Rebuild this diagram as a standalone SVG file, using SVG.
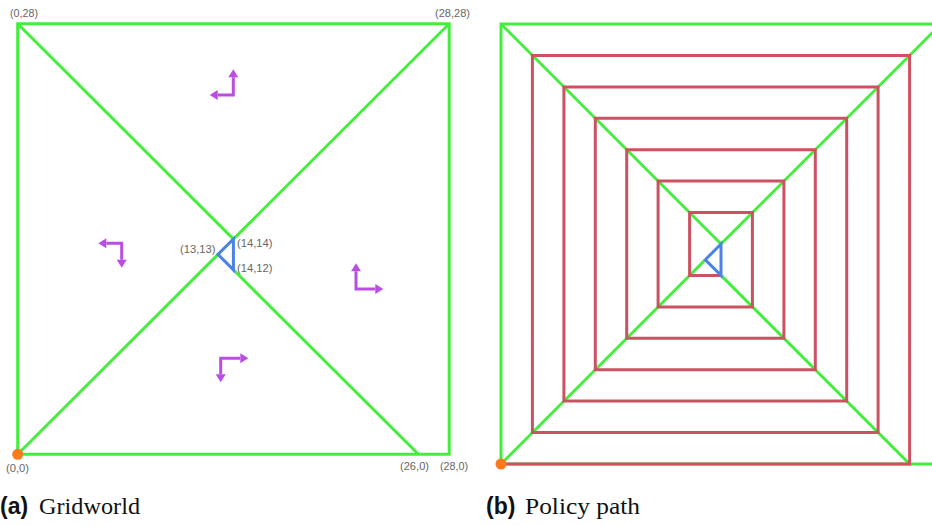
<svg xmlns="http://www.w3.org/2000/svg" width="932" height="525" viewBox="0 0 932 525">
<style>
.g{fill:none;stroke:#44ee3c;stroke-width:3;stroke-linejoin:miter}
.r{fill:none;stroke:#cc5262;stroke-width:3;stroke-linejoin:miter}
.b{fill:none;stroke:#4a82e6;stroke-width:3;stroke-linejoin:miter}
.o{fill:#fb7a1e}
.a{fill:none;stroke:#bb4ee2;stroke-width:3}
.lbl{font-family:"Liberation Sans",Arial,sans-serif;font-size:11.5px;fill:#666}
.cap{font-family:"Liberation Sans",Arial,sans-serif;font-weight:bold;font-size:23px;fill:#111}
.capt{font-family:"Liberation Serif","Times New Roman",serif;font-size:24px;fill:#111}
</style>
<defs>
<marker id="ah" markerUnits="userSpaceOnUse" markerWidth="8" markerHeight="10" viewBox="0 0 8 10" refX="0" refY="5" orient="auto-start-reverse" overflow="visible">
<path d="M0,0 L8,5 L0,10 z" fill="#bb4ee2"/>
</marker>
</defs>
<g id="panel-a">
<g id="grid-a">
<path class="g" d="M17.7,454.3 L17.7,23.8 L449.2,23.8 L449.2,454.3 Z"/>
<path class="g" d="M17.7,23.8 L233.4,239.05 L449.2,23.8"/>
<path class="g" d="M17.7,454.3 L218,254.4"/>
<path class="g" d="M233.4,269.8 L418.4,454.3"/>
</g>
<g id="goal-a"><path class="b" d="M218,254.4 L233.4,239.05 L233.4,269.8 Z"/></g>
<g id="start-a"><circle class="o" cx="17.7" cy="454.3" r="5.5"/></g>
<g id="arrows-a">
<path class="a" d="M217.7,95 L233.3,95 L233.3,77.3" marker-start="url(#ah)" marker-end="url(#ah)"/>
<path class="a" d="M106.3,243.3 L121.7,243.3 L121.7,259.7" marker-start="url(#ah)" marker-end="url(#ah)"/>
<path class="a" d="M356,271.3 L356,289 L375.3,289" marker-start="url(#ah)" marker-end="url(#ah)"/>
<path class="a" d="M240.3,358.3 L220.7,358.3 L220.7,374.3" marker-start="url(#ah)" marker-end="url(#ah)"/>
</g>
<g id="labels-a">
<text class="lbl" x="10" y="17" textLength="28" lengthAdjust="spacingAndGlyphs">(0,28)</text>
<text class="lbl" x="435" y="17" textLength="35" lengthAdjust="spacingAndGlyphs">(28,28)</text>
<text class="lbl" x="6" y="472" textLength="23" lengthAdjust="spacingAndGlyphs">(0,0)</text>
<text class="lbl" x="400" y="470" textLength="29" lengthAdjust="spacingAndGlyphs">(26,0)</text>
<text class="lbl" x="440" y="470" textLength="28" lengthAdjust="spacingAndGlyphs">(28,0)</text>
<text class="lbl" x="180" y="253" textLength="35.5" lengthAdjust="spacingAndGlyphs">(13,13)</text>
<text class="lbl" x="237" y="246.5" textLength="35.5" lengthAdjust="spacingAndGlyphs">(14,14)</text>
<text class="lbl" x="237" y="272" textLength="35.5" lengthAdjust="spacingAndGlyphs">(14,12)</text>
</g>
</g>
<g id="panel-b">
<g id="grid-b">
<path class="g" d="M501,464 L501,24 L941,24 L941,464 Z"/>
<path class="g" d="M501,24 L721,244 L941,24"/>
<path class="g" d="M501,464 L705.3,259.7"/>
<path class="g" d="M721,275.4 L909.6,464"/>
</g>
<g id="policy-path">
<path class="r" d="M501,464 L909.6,464 L909.6,55.4 L532.4,55.4 L532.4,432.6 L878.1,432.6 L878.1,86.9 L563.9,86.9 L563.9,401.1 L846.7,401.1 L846.7,118.3 L595.3,118.3 L595.3,369.7 L815.3,369.7 L815.3,149.7 L626.7,149.7 L626.7,338.3 L783.9,338.3 L783.9,181.1 L658.1,181.1 L658.1,306.9 L752.4,306.9 L752.4,212.6 L689.6,212.6 L689.6,275.4 L721,275.4"/>
</g>
<g id="goal-b"><path class="b" d="M705.3,259.7 L721,244 L721,275.4 Z"/></g>
<g id="start-b"><circle class="o" cx="501" cy="464" r="5.5"/></g>
</g>
<g id="captions">
<text class="cap" x="0" y="514">(a)</text>
<text class="capt" x="39" y="514" textLength="101" lengthAdjust="spacingAndGlyphs">Gridworld</text>
<text class="cap" x="486" y="514">(b)</text>
<text class="capt" x="525" y="514" textLength="115" lengthAdjust="spacingAndGlyphs">Policy path</text>
</g>
</svg>
